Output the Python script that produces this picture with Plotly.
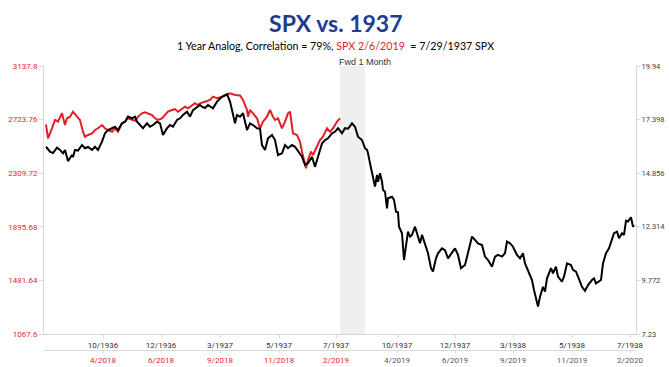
import plotly.graph_objects as go

# ---- data (trading-day index since window start, values) ----
spx1937_day = [2, 6, 9, 13, 16, 19, 21, 24, 28, 29, 31, 34, 38, 41, 44, 48, 51, 54, 58, 61, 64, 68, 71, 74,
               78, 81, 84, 88, 91, 93, 96, 99, 103, 106, 109, 113, 116, 119, 123, 126, 129, 133, 136, 139,
               143, 146, 149, 153, 156, 158, 161, 164, 169, 173, 178, 183, 186, 188, 191, 193, 196, 199, 203,
               206, 209, 213, 216, 218, 221, 224, 228, 231, 234, 238, 241, 244, 248, 251, 254, 258, 261, 264,
               268, 271, 274, 278, 281, 284, 288, 291, 294, 298, 301, 304, 306, 308, 311, 314, 318, 321, 323,
               324, 326, 328, 329, 331, 333, 334, 336, 338, 339, 341, 343, 344, 348, 350, 352, 354, 355, 358,
               360, 362, 364, 366, 368, 371, 374, 376, 378, 381, 384, 387, 389, 392, 394, 398, 401, 404, 408,
               411, 414, 417, 421, 424, 428, 431, 434, 438, 441, 444, 448, 451, 454, 458, 461, 463, 466, 469,
               473, 476, 479, 481, 484, 488, 490, 493, 494, 496, 499, 501, 503, 507, 509, 512, 514, 518, 520,
               523, 527, 529, 532, 534, 538, 541, 544, 548, 550, 552, 554, 557, 559, 562, 565, 567, 570, 573,
               575, 578, 580, 582, 584, 587, 589, 590]
spx1937 = [16.11, 15.88, 15.81, 16.07, 15.96, 15.80, 15.96, 15.43, 15.72, 15.62, 15.96, 15.93, 16.19, 16.04,
           16.10, 15.96, 16.11, 15.96, 16.35, 16.75, 16.90, 16.99, 17.06, 16.90, 17.22, 17.30, 17.54, 17.46,
           17.54, 17.30, 17.14, 16.99, 17.22, 17.06, 17.14, 17.30, 17.22, 16.67, 16.99, 17.14, 17.06, 17.38,
           17.46, 17.62, 17.77, 17.54, 17.85, 18.01, 18.09, 18.01, 17.95, 18.09, 17.93, 18.25, 18.48, 18.60,
           18.25, 17.85, 17.22, 17.62, 17.54, 17.70, 16.90, 17.22, 17.14, 16.99, 16.97, 16.19, 15.96, 16.51,
           16.67, 16.43, 15.72, 15.80, 16.19, 16.04, 16.19, 16.11, 15.88, 15.64, 15.25, 15.33, 15.64, 15.16,
           15.64, 16.27, 16.43, 16.51, 16.75, 16.82, 16.99, 16.75, 16.99, 16.97, 17.09, 17.22, 17.06, 16.59,
           16.43, 16.04, 15.96, 15.80, 15.33, 14.85, 14.69, 14.22, 14.77, 14.45, 14.85, 14.45, 14.06, 13.98,
           13.19, 13.67, 13.74, 13.59, 13.03, 13.00, 12.32, 12.01, 10.74, 11.45, 12.08, 11.85, 11.93, 12.32,
           11.77, 11.53, 11.93, 11.53, 11.06, 10.35, 10.19, 10.82, 11.06, 11.29, 11.21, 10.82, 11.06, 11.29,
           10.98, 10.35, 10.50, 11.13, 11.85, 11.69, 11.53, 11.45, 10.90, 10.74, 10.42, 10.90, 10.98, 10.90,
           11.06, 11.61, 11.53, 11.37, 10.98, 10.82, 11.06, 10.58, 10.27, 9.79, 9.32, 8.61, 8.53, 9.00, 9.47,
           9.24, 9.87, 10.35, 10.11, 10.42, 9.95, 9.71, 9.95, 10.58, 10.50, 10.27, 10.19, 9.95, 9.47, 9.28,
           9.55, 9.79, 9.87, 9.63, 9.71, 9.79, 10.58, 11.06, 11.29, 11.61, 12.01, 12.08, 11.77, 12.01, 11.93,
           12.60, 12.56, 12.77, 12.32, 12.40]

spx2019_day = [2, 4, 8, 11, 14, 18, 21, 23, 26, 29, 33, 36, 39, 41, 44, 48, 51, 54, 58, 61, 64, 68, 71, 74,
               78, 81, 84, 88, 91, 94, 98, 101, 104, 108, 111, 114, 118, 121, 124, 128, 131, 134, 138, 141,
               144, 148, 151, 154, 156, 161, 166, 169, 173, 178, 183, 186, 191, 196, 199, 203, 204, 206, 209,
               213, 216, 219, 223, 226, 229, 231, 234, 238, 241, 244, 246, 248, 249, 253, 256, 258, 260, 262,
               264, 267, 269, 273, 276, 279, 283, 286, 289, 293, 296]
spx2019 = [2687.5, 2579.3, 2656.6, 2720.7, 2707.5, 2772.4, 2682.0, 2733.8, 2746.2, 2784.8, 2746.2, 2720.7,
           2630.3, 2591.7, 2604.8, 2617.9, 2643.4, 2656.6, 2682.0, 2656.6, 2643.4, 2630.3, 2656.6, 2630.3,
           2695.2, 2707.5, 2733.8, 2720.7, 2715.0, 2746.2, 2772.4, 2780.2, 2772.4, 2759.3, 2733.8, 2720.7,
           2733.8, 2759.3, 2784.8, 2797.9, 2805.6, 2784.8, 2811.1, 2823.4, 2811.1, 2836.5, 2849.7, 2836.5,
           2849.7, 2862.0, 2875.2, 2900.7, 2888.3, 2900.7, 2913.8, 2926.9, 2913.8, 2910.0, 2875.2, 2797.9,
           2746.2, 2797.9, 2772.4, 2733.8, 2656.6, 2707.5, 2746.2, 2797.9, 2746.2, 2720.7, 2733.8, 2656.6,
           2707.5, 2772.4, 2784.8, 2682.0, 2617.9, 2604.8, 2553.0, 2475.8, 2398.6, 2347.6, 2411.7, 2475.8,
           2450.3, 2514.4, 2566.2, 2591.7, 2656.6, 2630.3, 2656.6, 2707.5, 2733.8]

tick_days = [59, 117, 176, 235, 292, 353, 411, 469, 528, 586]
labels_1937 = ["10/1936", "12/1936", "3/1937", "5/1937", "7/1937",
               "10/1937", "12/1937", "3/1938", "5/1938", "7/1938"]
labels_2019 = ["4/2018", "6/2018", "9/2018", "11/2018", "2/2019",
               "4/2019", "6/2019", "9/2019", "11/2019", "2/2020"]
n_red_labels = 5  # labels within the analog window drawn in red

left_ticks = [1067.6, 1481.64, 1895.68, 2309.72, 2723.76, 3137.8]
right_ticks = [7.23, 9.772, 12.314, 14.856, 17.398, 19.94]
fwd_window = [296, 321]

RED = "#e41e26"
GREY = "#595959"
AX = "#d9d9d9"
FONT = "Roboto"
TS = 8

fig = go.Figure()
fig.add_trace(go.Scatter(x=spx2019_day, y=spx2019, mode="lines", xaxis="x", yaxis="y",
                         line=dict(color=RED, width=2), showlegend=False))
fig.add_trace(go.Scatter(x=spx1937_day, y=spx1937, mode="lines", xaxis="x", yaxis="y2",
                         line=dict(color="#000000", width=2), showlegend=False))
# carrier for the second (2018-2020) date axis
fig.add_trace(go.Scatter(x=[tick_days[0]], y=[None], mode="lines", xaxis="x2", yaxis="y",
                         showlegend=False, hoverinfo="skip"))

fig.add_shape(type="rect", xref="x", yref="paper", x0=fwd_window[0], x1=fwd_window[1],
              y0=0.0662, y1=1, fillcolor="#efefef", line=dict(width=0), layer="below")

ticktext2 = []
for i, t in enumerate(labels_2019):
    c = RED if i < n_red_labels else GREY
    ticktext2.append(f"<span style='color:{c}'>{t}</span>")

xr = [0, 592]
fig.update_layout(
    width=669, height=367,
    margin=dict(l=44, r=33, t=66, b=14, autoexpand=False),
    paper_bgcolor="white", plot_bgcolor="white",
    font=dict(family=FONT, size=TS, color="#404040"),
    title=dict(text="<b>SPX vs. 1937</b>", x=0.502, xref="container", y=0.935, yref="container",
               xanchor="center", yanchor="middle",
               font=dict(family="Lato", size=23, color="#1f3c8f")),
    xaxis=dict(range=xr, tickvals=tick_days, ticktext=labels_1937, showgrid=False, zeroline=False,
               showline=True, linecolor=AX, ticks="outside", ticklen=3, tickcolor=AX,
               tickfont=dict(color="#303030", size=TS), anchor="y", automargin=False),
    xaxis2=dict(range=xr, tickvals=tick_days, ticktext=ticktext2, overlaying="x", anchor="free",
                position=0.0105, side="bottom", showgrid=False, zeroline=False, showline=True,
                linecolor=AX, ticks="outside", ticklen=2, tickcolor=AX, tickfont=dict(size=TS),
                automargin=False),
    yaxis=dict(range=[left_ticks[0], left_ticks[-1]], tickvals=left_ticks,
               ticktext=[f"{v:g}" for v in left_ticks], domain=[0.0662, 1], showgrid=False,
               zeroline=False, showline=True, linecolor=AX, ticks="outside", ticklen=4, tickcolor=AX,
               tickfont=dict(color=RED, size=TS), anchor="x", automargin=False),
    yaxis2=dict(range=[right_ticks[0], right_ticks[-1]], tickvals=right_ticks,
                ticktext=[f"{v:g}" for v in right_ticks], overlaying="y", side="right",
                showgrid=False, zeroline=False, showline=True, linecolor=AX, ticks="outside",
                ticklen=3, tickcolor=AX, tickfont=dict(color="#404040", size=7.5), anchor="x",
                automargin=False),
)

fig.add_annotation(text=("1 Year Analog, Correlation = 79%, "
                         f"<span style='color:{RED}'>SPX 2/6/2019</span>&nbsp; = 7/29/1937 SPX"),
                   xref="paper", yref="paper", x=0.493, y=1.0 + (66 - 46) / 287,
                   xanchor="center", yanchor="middle", showarrow=False,
                   font=dict(family="Lato", size=10.7, color="#000000"))
fig.add_annotation(text="Fwd 1 Month", xref="paper", yref="paper", x=(365 - 44) / 592,
                   y=1.0 + (66 - 62) / 287, xanchor="center", yanchor="middle", showarrow=False,
                   font=dict(family="Liberation Sans", size=9, color="#333333"))

fig.write_html("out.html", config={"displayModeBar": False},
               post_script="document.body.style.margin='0';document.body.style.padding='0';")
